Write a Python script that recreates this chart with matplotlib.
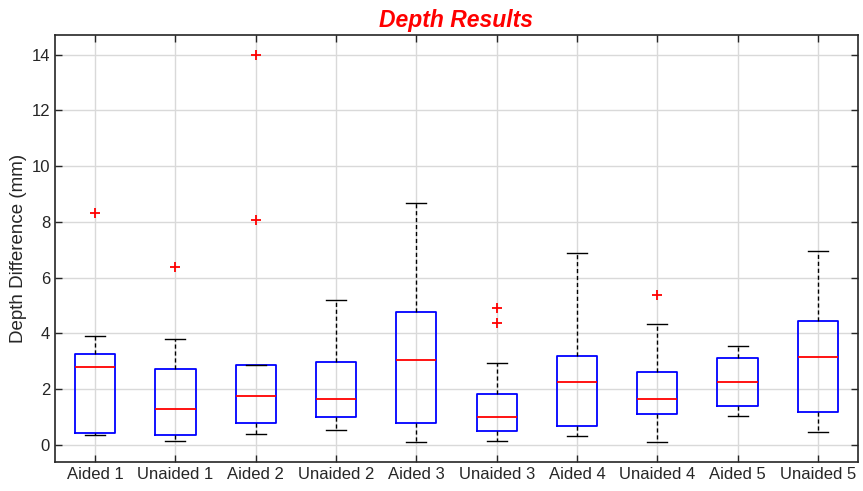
import matplotlib
matplotlib.use('Agg')
import matplotlib.pyplot as plt

labels = ['Aided 1', 'Unaided 1', 'Aided 2', 'Unaided 2', 'Aided 3',
          'Unaided 3', 'Aided 4', 'Unaided 4', 'Aided 5', 'Unaided 5']

# Box statistics.
whisker_low = [0.37, 0.13, 0.41, 0.54, 0.11, 0.14, 0.31, 0.12, 1.05, 0.48]
q1 = [0.42, 0.37, 0.78, 0.99, 0.80, 0.51, 0.69, 1.11, 1.40, 1.17]
median = [2.79, 1.30, 1.77, 1.66, 3.05, 1.02, 2.27, 1.65, 2.27, 3.16]
q3 = [3.26, 2.74, 2.85, 2.99, 4.78, 1.84, 3.19, 2.61, 3.11, 4.46]
whisker_high = [3.90, 3.80, 2.85, 5.19, 8.69, 2.94, 6.87, 4.33, 3.56, 6.95]
outliers = [[8.30], [6.38], [14.0, 8.07], [], [], [4.92, 4.38], [], [5.38], [], []]

plt.rcParams['font.family'] = ['Liberation Sans', 'DejaVu Sans']

stats = []
for i in range(len(labels)):
    stats.append({'label': labels[i], 'whislo': whisker_low[i], 'q1': q1[i],
                  'med': median[i], 'q3': q3[i], 'whishi': whisker_high[i],
                  'fliers': outliers[i]})

fig = plt.figure(figsize=(8.63, 4.91), dpi=100)
ax = fig.add_axes([0.0637, 0.0597, 0.9305, 0.869])

ax.bxp(stats, widths=0.5, capwidths=0.25,
       boxprops=dict(color='blue', linewidth=1.3),
       medianprops=dict(color='red', linewidth=1.3),
       whiskerprops=dict(color='black', linewidth=1.0, linestyle=(0, (3, 2))),
       capprops=dict(color='black', linewidth=1.0),
       flierprops=dict(marker='+', markeredgecolor='red', markersize=7,
                       markeredgewidth=1.3, linestyle='none'))

ax.set_xlim(0.5, 10.5)
ax.set_ylim(-0.6, 14.7)
ax.set_yticks(range(0, 15, 2))
ax.grid(True, color='#d9d9d9', linewidth=1.0)
ax.set_axisbelow(True)
ax.tick_params(direction='in', top=True, right=True, length=5,
               labelsize=12, colors='#262626', width=1.0)
for s in ax.spines.values():
    s.set_color('#262626')
    s.set_linewidth(1.2)

ax.set_ylabel('Depth Difference (mm)', fontsize=13.5, color='#262626', labelpad=3)
ax.set_title('Depth Results', color='red', fontweight='bold', fontstyle='italic',
             fontsize=16.5, pad=6)

fig.savefig('out.png', dpi=100)
